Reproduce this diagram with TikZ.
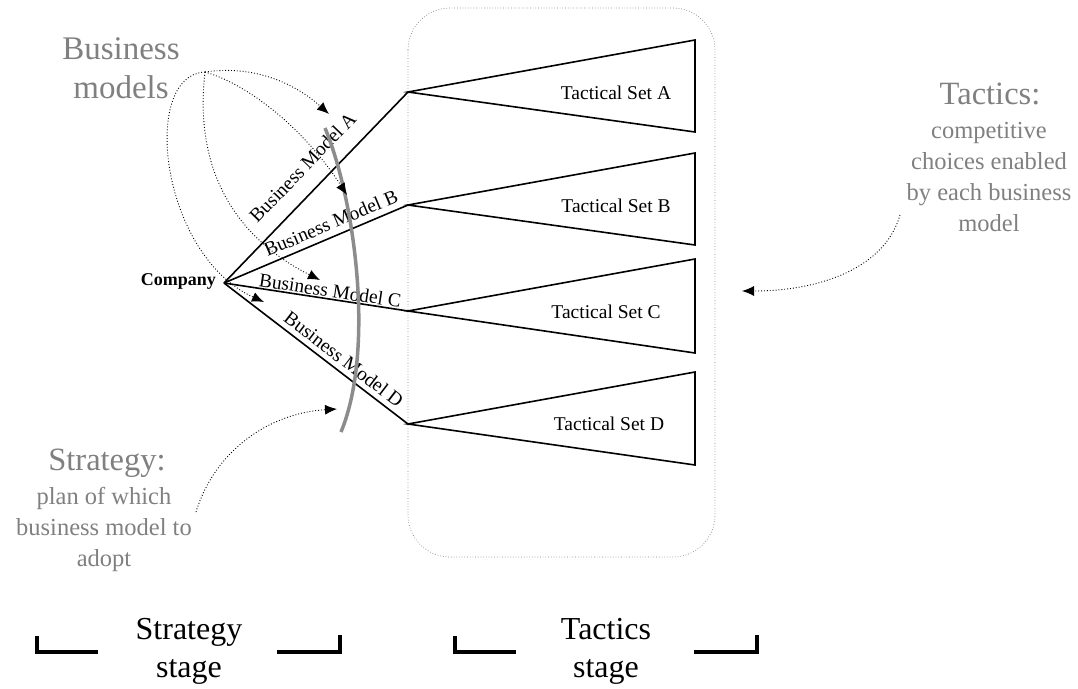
\documentclass[tikz,border=0pt]{standalone}
\usepackage{fontspec}
\setmainfont{Liberation Serif}
\usetikzlibrary{arrows.meta}
\definecolor{txtgray}{HTML}{808080}
\definecolor{arcgray}{HTML}{8C8C8C}
\begin{document}
\begin{tikzpicture}[x=1pt,y=-1pt,
  blk/.style={line width=1.6pt,black},
  bmlabel/.style={font=\fontsize{19.5}{22}\selectfont,sloped,above,inner sep=1pt},
  tslabel/.style={font=\fontsize{19.5}{22}\selectfont},
  dotarrow/.style={dotted,line width=0.9pt,-{Latex[length=12pt,width=10pt]}},
  graytitle/.style={text=txtgray,font=\fontsize{32.5}{38}\selectfont,align=center},
  graybody/.style={text=txtgray,font=\fontsize{24.5}{31}\selectfont,align=center},
  stagetext/.style={font=\fontsize{32}{38}\selectfont,align=center},
  brk/.style={line width=3.8pt,line cap=rect}]
\useasboundingbox (0,0) rectangle (1078,688);

% tactics container
\draw[dotted,line width=0.7pt,gray] (408,8) [rounded corners=42pt] rectangle (715,557);

% company and business model lines
\coordinate (co) at (224,283);
\node[anchor=east,font=\bfseries\fontsize{18}{20}\selectfont,inner sep=2pt] (company) at (218,281) {Company};
\coordinate (apA) at (408,92);
\coordinate (apB) at (408,205);
\coordinate (apC) at (408,311);
\coordinate (apD) at (408,424);

\draw[blk] (co) -- node[bmlabel,pos=0.52,yshift=15pt] (bmA) {Business Model A} (apA);
\draw[blk] (co) -- node[bmlabel,pos=0.61,yshift=5pt] (bmB) {Business Model B} (apB);
\draw[blk] (co) -- node[bmlabel,pos=0.57] (bmC) {Business Model C} (apC);
\draw[blk] (co) -- node[bmlabel,pos=0.61,yshift=4pt] (bmD) {Business Model D} (apD);

% tactical set triangles
\draw[blk,line join=miter] (apA) -- (695,40) -- (695,132) -- cycle;
\draw[blk,line join=miter] (apB) -- (695,153) -- (695,245) -- cycle;
\draw[blk,line join=miter] (apC) -- (695,259) -- (695,353) -- cycle;
\draw[blk,line join=miter] (apD) -- (695,372) -- (695,465) -- cycle;
\node[tslabel] (tsA) at (616,93) {Tactical Set A};
\node[tslabel] (tsB) at (616,206) {Tactical Set B};
\node[tslabel] (tsC) at (606,312) {Tactical Set C};
\node[tslabel] (tsD) at (609,424) {Tactical Set D};

% strategy arc
\draw[arcgray,line width=3.5pt] (325,128) .. controls (355,200) and (375,350) .. (341,432);

% Business models annotation
\node[text=txtgray,font=\fontsize{33}{39}\selectfont,align=center] (bmtitle) at (121,68) {Business\\models};
\coordinate (bmo) at (205,72);
\draw[dotarrow] (bmo) .. controls (260,64) and (300,88) .. (329,114);
\draw[dotarrow] (bmo) .. controls (250,85) and (305,130) .. (347,195);
\draw[dotarrow] (bmo) .. controls (192,185) and (250,245) .. (320,280);
\draw[dotarrow] (bmo) .. controls (140,75) and (160,255) .. (264,302);

% Strategy annotation
\node[graytitle] (sttitle) at (107,463) {Strategy:};
\node[graybody] (stbody) at (104,529) {plan of which\\business model to\\adopt};
\coordinate (sts) at (196,512);
\draw[dotarrow] (sts) .. controls (215,450) and (270,413) .. (337,409);

% Tactics annotation
\node[graytitle] (tctitle) at (990,94) {Tactics:};
\node[graybody] (tcbody) at (989,177) {competitive\\choices enabled\\by each business\\model};
\coordinate (tcs) at (900,215);
\draw[dotarrow] (tcs) .. controls (885,268) and (820,291) .. (742,291);

% stage labels
\node[stagetext] (stg1) at (189,651) {Strategy\\stage};
\node[stagetext] (stg2) at (606,651) {Tactics\\stage};
\draw[brk] (37,638) -- (37,652) -- (96,652);
\draw[brk] (279,652) -- (340,652) -- (340,637);
\draw[brk] (455,638) -- (455,652) -- (514,652);
\draw[brk] (696,652) -- (757,652) -- (757,637);
\end{tikzpicture}
\end{document}
